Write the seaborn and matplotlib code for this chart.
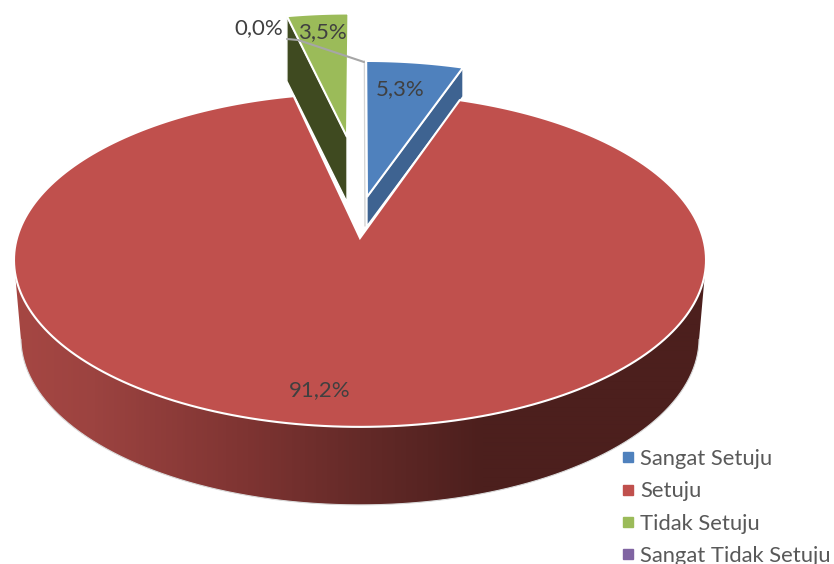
import numpy as np
import matplotlib
matplotlib.use("Agg")
import matplotlib.pyplot as plt
from matplotlib.lines import Line2D
from matplotlib.patches import Polygon
from matplotlib.colors import LinearSegmentedColormap
import seaborn as sns

# Survey responses (percent)
categories = ["Sangat Setuju", "Setuju", "Tidak Setuju", "Sangat Tidak Setuju"]
shares = [5.3, 91.2, 3.5, 0.0]

sns.set_theme(style="white")
plt.rcParams["font.family"] = ["Lato", "DejaVu Sans"]

palette = sns.color_palette(["#4F81BD", "#C0504D", "#9BBB59", "#8064A2"])
side_colors = ["#3E6391", None, "#3F4A20", None]

# Perspective of the tilted disc on the canvas
CX, CY = 360.0, 238.0
RX, RY = 343.0, 164.0
PERSP = 0.1317

# Exploded offset (disc units) and wall height (px) for each slice
offsets = [(0.021, 0.2585), (0.0, 0.0), (-0.0412, 0.67), (-0.005, 0.40)]
depths = [29.0, 78.0, 65.0, 0.0]
BOTTOM_SHRINK = 0.98


def project(x, y, shrink=1.0, drop=0.0):
    w = 1 + PERSP * y
    return CX + RX * x * shrink / w, CY - RY * y / w + drop


def rim(theta_deg, off):
    t = np.radians(theta_deg)
    return off[0] + np.sin(t), off[1] + np.cos(t)


fig = plt.figure(figsize=(8.34, 5.64), dpi=100)
ax = fig.add_axes([0, 0, 1, 1])

edges = np.concatenate([[0], np.cumsum(shares)]) * 3.6
starts, ends = edges[:-1], edges[1:]

# Large slice: curved front wall, a horizontal shade clipped to the wall outline
off = offsets[1]
wall_th = np.linspace(98, 262, 300)
wx, wy = rim(wall_th, off)
top_x, top_y = project(wx, wy)
low_x, low_y = project(wx, wy, BOTTOM_SHRINK, depths[1])
outline = np.column_stack([np.r_[top_x, low_x[::-1]], np.r_[top_y, low_y[::-1]]])

shade = LinearSegmentedColormap.from_list(
    "wall",
    [(0.0, "#A64743"), (0.118, "#9C4340"), (0.339, "#7E3432"),
     (0.501, "#642A28"), (0.678, "#4C1F1D"), (1.0, "#4C1F1D")],
)
grad = ax.imshow(np.linspace(0, 1, 700)[None, :], cmap=shade, extent=(10, 710, 520, 240),
                 aspect="auto", zorder=1, interpolation="bilinear")
wall_patch = Polygon(outline, closed=True, transform=ax.transData, facecolor="none", edgecolor="none")
ax.add_patch(wall_patch)
grad.set_clip_path(wall_patch)
ax.plot(low_x, low_y, color="#DADADA", lw=0.8, zorder=1)

# Radial side walls of the two pulled-out slices
for i, theta in [(0, ends[0]), (2, starts[2])]:
    off = offsets[i]
    ax_pt = project(*off)
    rim_pt = project(*rim(theta, off))
    ax.fill([ax_pt[0], rim_pt[0], rim_pt[0], ax_pt[0]],
            [ax_pt[1], rim_pt[1], rim_pt[1] + depths[i], ax_pt[1] + depths[i]],
            facecolor=side_colors[i], edgecolor="white", lw=1.0, zorder=2)

# Hairline left by the empty category in the gap between slices
off = offsets[0]
top = project(off[0] - 0.006, off[1] + 1.0)
low = project(off[0] - 0.006, off[1])
ax.plot([top[0], low[0]], [top[1], low[1] + depths[0]], color="#D4D4D4", lw=1.0, zorder=2)

# Top faces
for i in range(3):
    off = offsets[i]
    th = np.linspace(starts[i], ends[i], 240)
    xs, ys = rim(th, off)
    px, py = project(xs, ys)
    ox, oy = project(*off)
    ax.fill(np.r_[ox, px], np.r_[oy, py], facecolor=palette[i],
            edgecolor="white", lw=1.5, joinstyle="miter", zorder=3)

# Data labels
label_pos = [(400, 89), (320, 390), (322, 32), (259, 28)]
for val, (lx, ly) in zip(shares, label_pos):
    ax.text(lx, ly, f"{val:.1f}%".replace(".", ","), ha="center", va="center",
            fontsize=16, color="#404040", zorder=6)

# Leader line from the empty category's label
ax.plot([287, 298, 364], [39, 40, 62], color="#A6A6A6", lw=1.5, zorder=5)

ax.set_xlim(0, 834)
ax.set_ylim(564, 0)
ax.axis("off")

# Legend
handles = [Line2D([], [], ls="", marker="s", ms=6.5, mfc=c, mec=c) for c in palette]
ax.legend(handles, categories, loc="upper left", bbox_to_anchor=(615 / 834, 1 - 449 / 564),
          frameon=False, fontsize=15.8, labelcolor="#595959", labelspacing=0.56,
          handletextpad=-0.05, borderpad=0, borderaxespad=0, handlelength=1.2)

fig.savefig("out.png", dpi=100, facecolor="white")
